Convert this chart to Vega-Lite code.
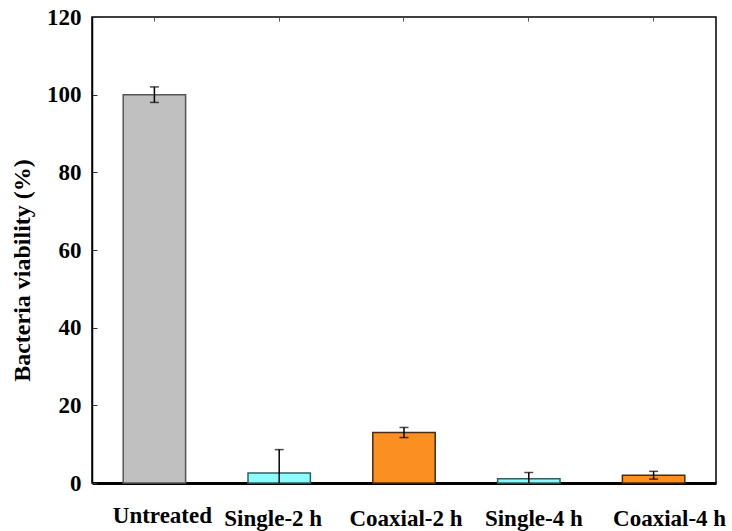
{
  "$schema": "https://vega.github.io/schema/vega-lite/v6.json",
  "width": 624,
  "height": 466,
  "autosize": "none",
  "padding": {"left": 92, "top": 17, "right": 16, "bottom": 48},
  "background": "white",
  "config": {
    "view": {"stroke": "black", "strokeWidth": 1.5},
    "font": "Liberation Serif"
  },
  "data": {
    "values": [
      {"group": "Untreated", "viability": 100, "low": 98, "high": 102, "kind": "Untreated"},
      {"group": "Single-2 h", "viability": 2.6, "low": -3.4, "high": 8.6, "kind": "Single"},
      {"group": "Coaxial-2 h", "viability": 13.0, "low": 11.7, "high": 14.3, "kind": "Coaxial"},
      {"group": "Single-4 h", "viability": 1.1, "low": -0.5, "high": 2.7, "kind": "Single"},
      {"group": "Coaxial-4 h", "viability": 2.0, "low": 1.0, "high": 3.0, "kind": "Coaxial"}
    ]
  },
  "encoding": {
    "x": {
      "field": "group",
      "type": "nominal",
      "sort": null,
      "scale": {"paddingInner": 0.5, "paddingOuter": 0.25}
    }
  },
  "layer": [
    {
      "mark": {"type": "bar", "strokeWidth": 1.5},
      "encoding": {
        "x": {
          "field": "group",
          "type": "nominal",
          "sort": null,
          "axis": {
            "title": null,
            "orient": "bottom",
            "labelAngle": 0,
            "labelFont": "Liberation Serif",
            "labelFontWeight": "bold",
            "labelFontSize": 23,
            "labelColor": "black",
            "ticks": false,
            "tickSize": 0,
            "labelPadding": {"condition": {"test": "datum.value == 'Untreated'", "value": 21}, "value": 24},
            "labelOffset": {"condition": [
              {"test": "datum.value == 'Untreated'", "value": 8},
              {"test": "datum.value == 'Single-2 h'", "value": -6},
              {"test": "datum.value == 'Coaxial-2 h'", "value": 2},
              {"test": "datum.value == 'Single-4 h'", "value": 5}
            ], "value": 16},
            "domainColor": "black",
            "domainWidth": 3
          }
        },
        "y": {
          "field": "viability",
          "type": "quantitative",
          "scale": {"domain": [0, 120], "nice": false},
          "axis": {
            "title": "Bacteria viability (%)",
            "titleFont": "Liberation Serif",
            "titleFontWeight": "bold",
            "titleFontSize": 24,
            "titleColor": "black",
            "titleAngle": -90,
            "titleAlign": "center",
            "titleBaseline": "middle",
            "titleX": -70,
            "titleY": 253,
            "values": [0, 10, 20, 30, 40, 50, 60, 70, 80, 90, 100, 110, 120],
            "labelExpr": "datum.value % 20 == 0 ? datum.label : ''",
            "labelFont": "Liberation Serif",
            "labelFontWeight": "bold",
            "labelFontSize": 23,
            "labelColor": "black",
            "tickSize": -5,
            "tickColor": "#333",
            "labelPadding": 16,
            "grid": false,
            "domainColor": "black",
            "domainWidth": 1.5
          }
        },
        "color": {
          "field": "kind",
          "type": "nominal",
          "legend": null,
          "scale": {"domain": ["Untreated", "Single", "Coaxial"], "range": ["#c0c0c0", "#8cfcfc", "#fb8f22"]}
        },
        "stroke": {
          "field": "kind",
          "type": "nominal",
          "legend": null,
          "scale": {"domain": ["Untreated", "Single", "Coaxial"], "range": ["#555555", "#2f6060", "#4a2c10"]}
        }
      }
    },
    {
      "mark": {"type": "rule", "color": "black", "strokeWidth": 1.5, "clip": true},
      "encoding": {
        "x": {
          "field": "group",
          "type": "nominal",
          "sort": null,
          "axis": {"orient": "top", "title": null, "labels": false, "domain": false, "tickSize": -4, "tickColor": "#555"}
        },
        "y": {"field": "low", "type": "quantitative"},
        "y2": {"field": "high"}
      }
    },
    {
      "mark": {"type": "tick", "color": "black", "thickness": 1.5, "size": 9, "clip": true},
      "encoding": {
        "x": {"field": "group", "type": "nominal", "sort": null, "axis": null},
        "y": {"field": "high", "type": "quantitative"}
      }
    },
    {
      "mark": {"type": "tick", "color": "black", "thickness": 1.5, "size": 9, "clip": true},
      "encoding": {
        "x": {"field": "group", "type": "nominal", "sort": null, "axis": null},
        "y": {"field": "low", "type": "quantitative"}
      }
    }
  ],
  "resolve": {"axis": {"x": "independent"}}
}
